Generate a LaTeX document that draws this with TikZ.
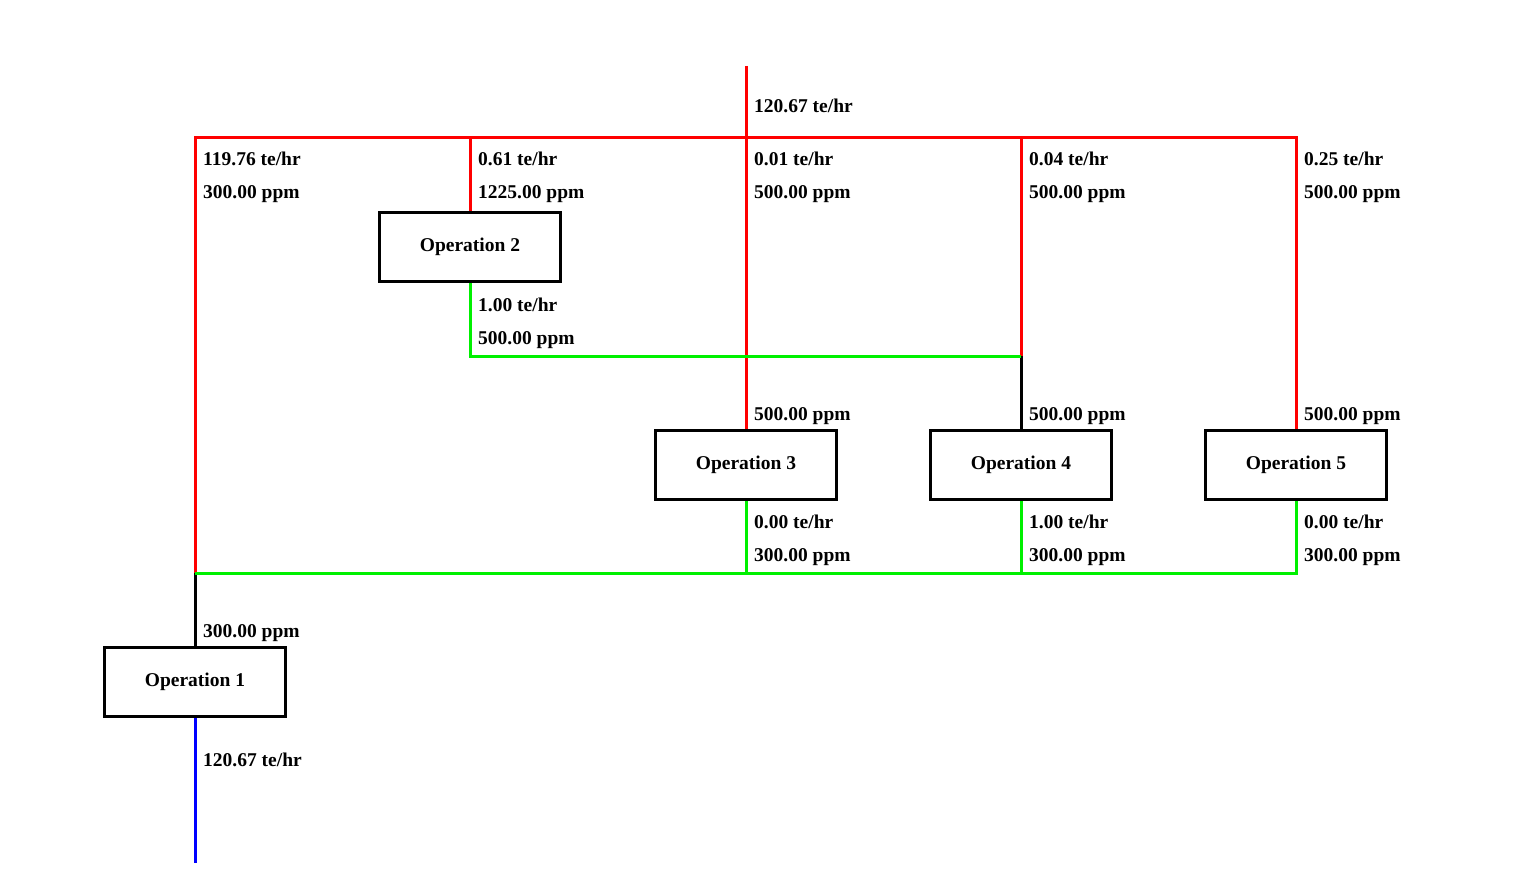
\documentclass[tikz,border=0pt]{standalone}
\usepackage{fontspec}
\setmainfont{Liberation Serif}
\begin{document}
\begin{tikzpicture}[x=1pt,y=-1pt,
  op/.style={draw=black, line width=3.8pt, minimum width=181pt, minimum height=69pt, inner sep=0pt, font=\fontsize{19.5}{23}\selectfont\bfseries},
  lab/.style={anchor=base west, inner sep=0pt, font=\fontsize{19.5}{23}\selectfont\bfseries},
  pipe/.style={line width=3pt, line join=miter},
  fresh/.style={pipe, draw={rgb,255:red,255;green,0;blue,0}},
  reuse/.style={pipe, draw={rgb,255:red,0;green,240;blue,0}},
  mixed/.style={pipe, draw=black},
  waste/.style={pipe, draw={rgb,255:red,0;green,0;blue,255}}]
\useasboundingbox (0,0) rectangle (1538,896);

\node[op] (op1) at (195,682) {Operation 1};
\node[op] (op2) at (470,247) {Operation 2};
\node[op] (op3) at (746,465) {Operation 3};
\node[op] (op4) at (1021,465) {Operation 4};
\node[op] (op5) at (1296,465) {Operation 5};

\coordinate (feed) at (746,66);
\coordinate (hl) at (195,138);
\coordinate (h2) at (470,138);
\coordinate (h3) at (746,138);
\coordinate (h4) at (1021,138);
\coordinate (hr) at (1296,138);
\coordinate (g4) at (1021,356);
\coordinate (j1) at (195,573);
\coordinate (out) at (195,863);

% fresh water (red)
\draw[fresh] (feed) -- (h3);
\draw[fresh] (j1) -- (hl) -- (hr) -- (op5.north);
\draw[fresh] (h2) -- (op2.north);
\draw[fresh] (h3) -- (op3.north);
\draw[fresh] (h4) -- (g4);
% mixed (black)
\draw[mixed] (g4) -- (op4.north);
\draw[mixed] (j1) -- (op1.north);
% reuse (green)
\draw[reuse] (op2.south) |- (g4);
\draw[reuse] (op5.south) |- (j1);
\draw[reuse] (op3.south) -- (op3.south |- j1);
\draw[reuse] (op4.south) -- (op4.south |- j1);
% wastewater (blue)
\draw[waste] (op1.south) -- (out);

% labels
\node[lab] (lf) at (754,113) {120.67 te/hr};
\node[lab] (l1a) at (203,166) {119.76 te/hr};
\node[lab] (l1b) at (203,199) {300.00 ppm};
\node[lab] (l2a) at (478,166) {0.61 te/hr};
\node[lab] (l2b) at (478,199) {1225.00 ppm};
\node[lab] (l3a) at (754,166) {0.01 te/hr};
\node[lab] (l3b) at (754,199) {500.00 ppm};
\node[lab] (l4a) at (1029,166) {0.04 te/hr};
\node[lab] (l4b) at (1029,199) {500.00 ppm};
\node[lab] (l5a) at (1304,166) {0.25 te/hr};
\node[lab] (l5b) at (1304,199) {500.00 ppm};
\node[lab] (o2a) at (478,311) {1.00 te/hr};
\node[lab] (o2b) at (478,344) {500.00 ppm};
\node[lab] (i3) at (754,420) {500.00 ppm};
\node[lab] (i4) at (1029,420) {500.00 ppm};
\node[lab] (i5) at (1304,420) {500.00 ppm};
\node[lab] (o3a) at (754,528) {0.00 te/hr};
\node[lab] (o3b) at (754,561) {300.00 ppm};
\node[lab] (o4a) at (1029,528) {1.00 te/hr};
\node[lab] (o4b) at (1029,561) {300.00 ppm};
\node[lab] (o5a) at (1304,528) {0.00 te/hr};
\node[lab] (o5b) at (1304,561) {300.00 ppm};
\node[lab] (i1) at (203,637) {300.00 ppm};
\node[lab] (o1) at (203,766) {120.67 te/hr};
\end{tikzpicture}
\end{document}
